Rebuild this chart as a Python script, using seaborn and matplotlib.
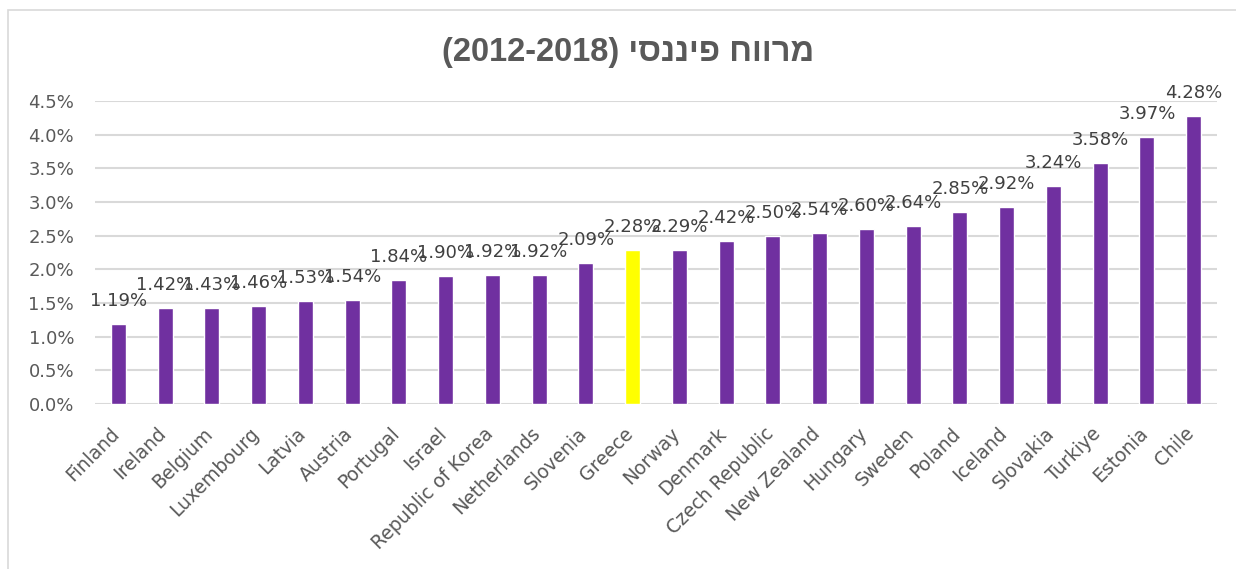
import matplotlib
matplotlib.use("Agg")
import matplotlib.pyplot as plt
import seaborn as sns
import pandas as pd
from matplotlib.patches import Rectangle
from matplotlib.transforms import ScaledTranslation
from matplotlib import font_manager as fm

countries = ["Finland", "Ireland", "Belgium", "Luxembourg", "Latvia", "Austria",
             "Portugal", "Israel", "Republic of Korea", "Netherlands", "Slovenia",
             "Greece", "Norway", "Denmark", "Czech Republic", "New Zealand",
             "Hungary", "Sweden", "Poland", "Iceland", "Slovakia", "Turkiye",
             "Estonia", "Chile"]
values = [1.19, 1.42, 1.43, 1.46, 1.53, 1.54, 1.84, 1.90, 1.92, 1.92, 2.09,
          2.28, 2.29, 2.42, 2.50, 2.54, 2.60, 2.64, 2.85, 2.92, 3.24, 3.58,
          3.97, 4.28]
highlight = "Greece"
yticks = [0.0, 0.5, 1.0, 1.5, 2.0, 2.5, 3.0, 3.5, 4.0, 4.5]
title_logical = "מרווח פיננסי (2012-2018)"

PURPLE = "#7030A0"
YELLOW = "#FFFF00"
TXT = "#595959"
LBL = "#404040"
GRID = "#D9D9D9"

sns.set_theme(style="white")
plt.rcParams['font.family'] = ['DejaVu Sans']

df = pd.DataFrame({"country": countries, "value": values})
palette = {c: (YELLOW if c == highlight else PURPLE) for c in countries}

fig = plt.figure(figsize=(12.36, 5.69), dpi=100)
ax = fig.add_axes([95/1236, 1-404/569, 1122/1236, 303/569])

sns.barplot(data=df, x="country", y="value", hue="country", palette=palette,
            legend=False, width=0.32, ax=ax, saturation=1, zorder=3)

ax.set_ylim(0, 4.5)
ax.set_xlim(-0.5, len(countries) - 0.5)
ax.set_yticks(yticks)
ax.set_yticklabels([f"{v:.1f}%" for v in yticks], color=TXT, fontsize=13)
ax.yaxis.grid(True, color=GRID, lw=1.5, zorder=0)
ax.set_axisbelow(True)
for s in ax.spines.values():
    s.set_visible(False)
ax.tick_params(axis='both', length=0)
ax.tick_params(axis='y', pad=15)
ax.set_xlabel("")
ax.set_ylabel("")
ax.set_xticks(range(len(countries)))
ax.set_xticklabels(countries, rotation=45, ha='right', rotation_mode='anchor',
                   color=TXT, fontsize=13.5)
ax.tick_params(axis='x', pad=10)
shift = ScaledTranslation(-9/100, -6/100, fig.dpi_scale_trans)
for lbl in ax.get_xticklabels():
    lbl.set_transform(lbl.get_transform() + shift)

for p, v in zip(ax.patches, values):
    ax.annotate(f"{v:.2f}%", (p.get_x() + p.get_width()/2, p.get_height()),
                xytext=(0, 13), textcoords='offset points', ha='center',
                va='baseline', fontsize=13, color=LBL)

# Visual (left-to-right) order for the RTL Hebrew title
words = title_logical.split(" ")
heb = [w for w in words if not w.startswith("(")]
latin = [w for w in words if w.startswith("(")]
title_visual = " ".join(latin + [w[::-1] for w in reversed(heb)])

title_font = None
for f in fm.fontManager.ttflist:
    if f.name == 'Liberation Sans' and f.weight in (700, 'bold') and f.style == 'normal':
        title_font = f.fname
        break
if title_font:
    tprop = fm.FontProperties(fname=title_font, size=23.5)
else:
    tprop = fm.FontProperties(family=['DejaVu Sans'], weight='bold', size=20)
fig.text(628/1236, 1-53/569, title_visual, ha='center', va='center',
         fontproperties=tprop, color=TXT)

fig.patches.append(Rectangle((8/1236, -0.1), 1.2, 1.1 - 10/569,
                             transform=fig.transFigure, fill=False,
                             edgecolor=GRID, lw=1.2))

fig.savefig("out.png", dpi=100)
